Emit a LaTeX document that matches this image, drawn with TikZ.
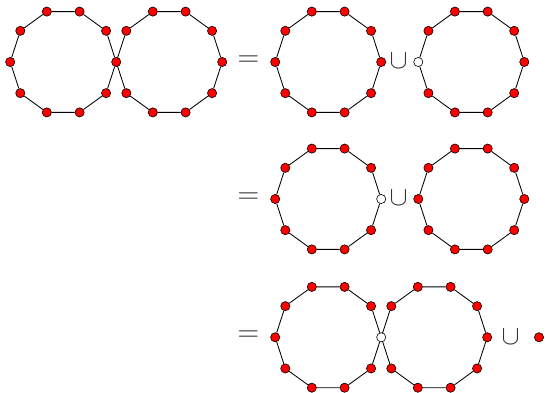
\RequirePackage{fix-cm}
\documentclass[tikz,border=0pt]{standalone}
\usetikzlibrary{backgrounds}
\tikzset{
  dot/.style={circle, draw=black, line width=0.6pt, fill=red, minimum size=9.2pt, inner sep=0pt},
  wdot/.style={dot, fill=white},
  edge/.style={draw=black, line width=0.85pt},
  sym/.style={inner sep=0pt, text=black!80},
  eqsym/.style={sym, font=\fontsize{30}{32}\selectfont},
  cupsym/.style={sym, font=\fontsize{27}{29}\selectfont}
}
% #1 name, #2 cx, #3 cy, #4 index of white vertex (-1 none), #5 index skipped (-1 none)
\newcommand\myring[5]{%
  \foreach \i in {0,...,9}{%
    \ifnum\i=#5\relax\else
      \ifnum\i=#4\relax
        \node[wdot] (#1-\i) at ([shift={(#2,#3)}]{36*\i}:53pt) {};
      \else
        \node[dot] (#1-\i) at ([shift={(#2,#3)}]{36*\i}:53pt) {};
      \fi
    \fi
  }%
}
\newcommand\myedges[1]{%
  \draw[edge] (#1-0) -- (#1-1) -- (#1-2) -- (#1-3) -- (#1-4) -- (#1-5) -- (#1-6) -- (#1-7) -- (#1-8) -- (#1-9) -- (#1-0);
}
\begin{document}
\begin{tikzpicture}[x=1pt, y=-1pt]
\useasboundingbox (0,0) rectangle (546,393);
% row 1
\myring{A}{63.2}{62}{-1}{-1}
\myring{B}{169.2}{62}{-1}{5}
\coordinate (B-5) at (A-0);
\node[eqsym] (eq1) at (248.5,61) {$=$};
\myring{C}{328.2}{62}{-1}{-1}
\node[cupsym] (cup1) at (398.5,61) {$\cup$};
\myring{D}{471.3}{62}{5}{-1}
% row 2
\node[eqsym] (eq2) at (248.5,198) {$=$};
\myring{E}{328.2}{199}{0}{-1}
\node[cupsym] (cup2) at (398.5,198) {$\cup$};
\myring{F}{471.3}{199}{-1}{-1}
% row 3
\node[eqsym] (eq3) at (248.5,336.3) {$=$};
\myring{G}{328.2}{337.3}{0}{-1}
\myring{H}{434.2}{337.3}{-1}{5}
\coordinate (H-5) at (G-0);
\node[cupsym] (cup3) at (510.5,336.5) {$\cup$};
\node[dot] (P) at (539,337.3) {};
\begin{scope}[on background layer]
  \foreach \r in {A,B,C,D,E,F,G,H}{\myedges{\r}}
\end{scope}
\end{tikzpicture}
\end{document}
